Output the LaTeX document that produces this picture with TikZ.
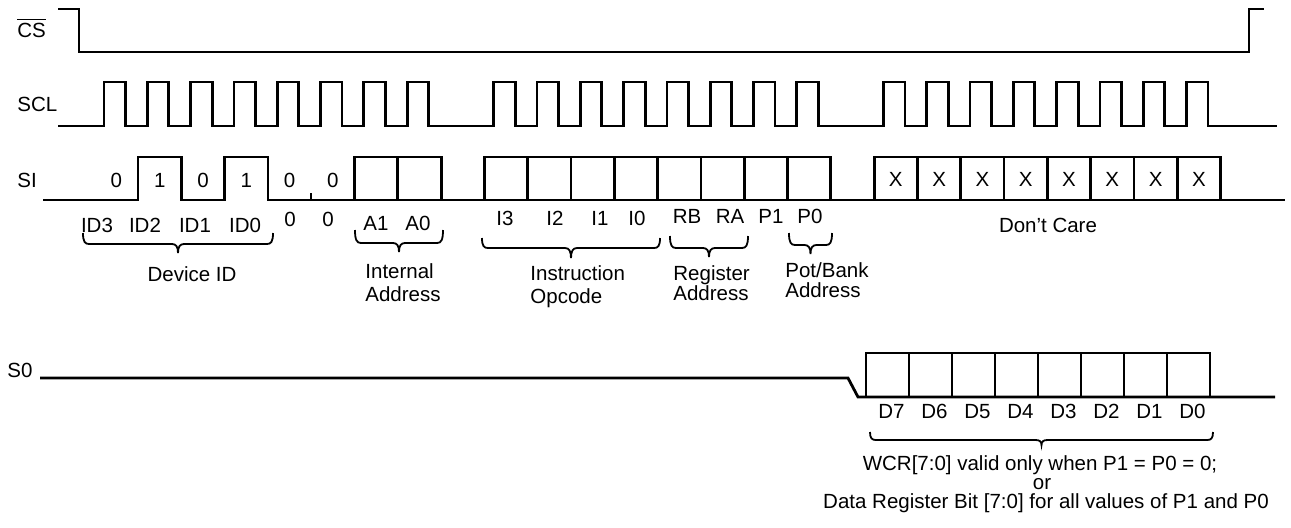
\documentclass[tikz,border=0pt]{standalone}
\usepackage{fontspec}
\setmainfont{Liberation Sans}

\tikzset{
  wave/.style={line width=1.4pt},
  brc/.style={line width=0.9pt},
  lbl/.style={inner sep=0pt, anchor=base},
}

% left, right, top, hook depth, tip depth
\newcommand{\fieldbrace}[5]{%
  \pgfmathsetmacro{\bmid}{(#1+#2)/2}
  \draw[brc] (#1,#3) .. controls (#1,{#3+0.8*#4}) and ({#1+2},{#3+#4}) .. ({#1+6},{#3+#4})
    -- ({\bmid-6},{#3+#4}) .. controls ({\bmid-2},{#3+#4}) and (\bmid,{#3+#4+0.3*#5}) .. (\bmid,{#3+#4+#5})
    .. controls (\bmid,{#3+#4+0.3*#5}) and ({\bmid+2},{#3+#4}) .. ({\bmid+6},{#3+#4})
    -- ({#2-6},{#3+#4}) .. controls ({#2-2},{#3+#4}) and (#2,{#3+0.8*#4}) .. (#2,#3);
}

\begin{document}
\begin{tikzpicture}[x=0.5pt, y=-0.5pt, font=\fontsize{10.25}{12}\selectfont]
    \useasboundingbox (0,0) rectangle (1291,527);

    % signal names
    \node[lbl, anchor=base west] (cs) at (17,37) {$\overline{\mbox{CS}}$};
    \node[lbl, anchor=base west] (scl) at (17,111) {SCL};
    \node[lbl, anchor=base west] (si) at (17,187) {SI};
    \node[lbl, anchor=base west] (so) at (7,377) {S0};

    % chip select and clock
    \draw[wave] (58,9) -- (79,9) -- (79,52) -- (1249,52) -- (1249,9) -- (1264,9);
    \draw[wave] (58,126) foreach \k in {0,1,2,3,4,5,6,7,9,10,11,12,13,14,15,16,18,19,20,21,22,23,24,25}
        { -- ({104+43.3*\k},126) -- ({104+43.3*\k},82) -- ({125.5+43.3*\k},82) -- ({125.5+43.3*\k},126) }
        -- (1277,126);

    % serial input
    \draw[wave] (43,200) -- (138,200) -- (138,157) -- (181.3,157) -- (181.3,200) -- (224.6,200)
        -- (224.6,157) -- (268,157) -- (268,200) -- (1285,200);
    \draw[wave] (311,200) -- (311,193);
    \foreach \j in {6,7,9,10,11,12,13,14,15,16,18,19,20,21,22,23,24,25}
        \draw[wave] ({94.7+43.3*\j},157) rectangle ({138+43.3*\j},200);

    \foreach \v [count=\j from 0] in {0,1,0,1,0,0}
        \node[lbl] (b\j) at ({116.4+43.3*\j},187) {\v};
    \foreach \j in {18,...,25}
        \node[lbl] (x\j) at ({116.4+43.3*\j},186) {X};

    \foreach \x/\t in {97/ID3, 145/ID2, 195/ID1, 245/ID0}
        \node[lbl] (\t) at (\x,232) {\t};
    \node[lbl] (z4) at (290,226) {0};
    \node[lbl] (z5) at (328,226) {0};
    \foreach \x/\t in {376/A1, 418/A0}
        \node[lbl] (\t) at (\x,230) {\t};
    \foreach \x/\t in {505/I3, 555/I2, 600/I1, 637/I0}
        \node[lbl] (\t) at (\x,225.5) {\t};
    \foreach \x/\t in {687/RB, 730/RA, 771/P1, 810/P0}
        \node[lbl] (\t) at (\x,223.5) {\t};
    \node[lbl] (dc) at (1048,232) {Don't Care};

    % braces and field names
    \fieldbrace{83}{273}{233}{11}{9}
    \fieldbrace{355}{443}{230}{13}{9}
    \fieldbrace{482}{660}{238}{10}{10}
    \fieldbrace{670}{748}{236}{12}{9}
    \fieldbrace{789}{832}{233}{12}{9}

    \node[lbl] (devid) at (192,281) {Device ID};
    \node[lbl, anchor=base west] (intl) at (365,278) {Internal};
    \node[lbl, anchor=base west] (inta) at (365,301) {Address};
    \node[lbl, anchor=base west] (instr) at (530,280) {Instruction};
    \node[lbl, anchor=base west] (opc) at (530,303) {Opcode};
    \node[lbl, anchor=base west] (regl) at (673,280) {Register};
    \node[lbl, anchor=base west] (rega) at (673,300) {Address};
    \node[lbl, anchor=base west] (potl) at (785,277) {Pot/Bank};
    \node[lbl, anchor=base west] (pota) at (785,297) {Address};

    % serial output
    \draw[wave] (40,378) -- (848,378) -- (858,397) -- (1275,397);
    \foreach \j in {0,...,7}
        \draw[wave] ({866+43*\j},353) rectangle ({909+43*\j},397);
    \foreach \j in {0,...,7} {
        \pgfmathtruncatemacro{\d}{7-\j}
        \node[lbl] (d\d) at ({891.5+43*\j},418) {D\d};
    }
    \fieldbrace{870}{1213}{432}{8}{5}

    \node[lbl] (wcr) at (1040,470) {WCR[7:0] valid only when P1 = P0 = 0;};
    \node[lbl] (or) at (1042,489) {or};
    \node[lbl] (data) at (1046,508) {Data Register Bit [7:0] for all values of P1 and P0};
\end{tikzpicture}
\end{document}
